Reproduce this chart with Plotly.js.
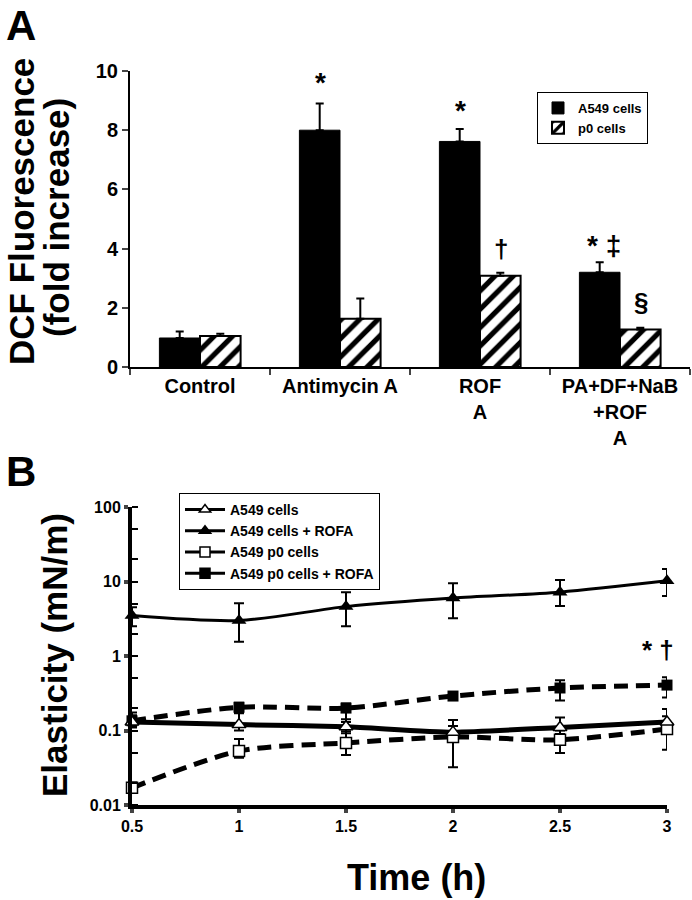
<!DOCTYPE html>
<html><head><meta charset="utf-8">
<script src="https://cdn.plot.ly/plotly-3.0.1.min.js"></script>
<style>html,body{margin:0;padding:0;background:#fff}#chart{width:692px;height:900px}</style>
</head><body><div id="chart"></div>
<script>
// ---------- Panel A data ----------
const categories = ['Control', 'Antimycin A', 'ROF<br>A', 'PA+DF+NaB<br>+ROF<br>A'];
const a549Fold = [0.98, 8.0, 7.62, 3.2];
const a549FoldErr = [0.22, 0.9, 0.42, 0.34];
const p0Fold = [1.05, 1.63, 3.08, 1.27];
const p0FoldErr = [0.07, 0.68, 0.1, 0.06];
const noErr = [0, 0, 0, 0];
const yTicksA = [0, 2, 4, 6, 8, 10];

// ---------- Panel B data ----------
const times = [0.5, 1, 1.5, 2, 2.5, 3];
const a549 = [0.13, 0.12, 0.112, 0.095, 0.11, 0.13];
const a549Plus = [0.03, 0.05, 0.03, 0.043, 0.04, 0.065];
const a549Minus = [0.02, 0.02, 0.02, 0.015, 0.02, 0.03];
const a549Rofa = [3.5, 3.0, 4.6, 6.0, 7.2, 10.2];
const a549RofaPlus = [1.0, 2.1, 2.6, 3.5, 3.3, 4.5];
const a549RofaMinus = [1.0, 1.45, 2.1, 2.8, 2.5, 3.8];
const p0 = [0.017, 0.053, 0.068, 0.082, 0.075, 0.105];
const p0Plus = [0.003, 0.024, 0.03, 0.033, 0.025, 0.05];
const p0Minus = [0.002, 0.01, 0.021, 0.05, 0.025, 0.05];
const p0Rofa = [0.135, 0.205, 0.2, 0.29, 0.372, 0.407];
const p0RofaPlus = [0.04, 0.03, 0.03, 0.02, 0.1, 0.11];
const p0RofaMinus = [0.02, 0.03, 0.07, 0.02, 0.12, 0.13];
const yTicksB = [0.01, 0.1, 1, 10, 100];
const yTickTextB = ['0.01', '0.1', '1', '10', '100'];
const xTicksB = [0.5, 1, 1.5, 2, 2.5, 3];
const legendB = ['A549 cells', 'A549 cells + ROFA', 'A549 p0 cells', 'A549 p0 cells + ROFA'];
const legendBSymbols = ['triangle-up', 'triangle-up', 'square', 'square'];
const legendBFill = ['white', 'black', 'white', 'black'];
const sigB = {x: 2.96, y: 1.2, text: '* †'};

const F = 'Liberation Sans, Arial, sans-serif';
const bold = (size) => ({family: F, size: size, color: 'black', weight: 700});

const traces = [
  {type: 'bar', name: 'A549 cells', x: categories, y: a549Fold, xaxis: 'x', yaxis: 'y', legend: 'legend',
   marker: {color: 'black', line: {color: 'black', width: 1}},
   error_y: {type: 'data', symmetric: false, array: a549FoldErr, arrayminus: noErr, color: 'black', thickness: 2, width: 4}},
  {type: 'bar', name: 'p0 cells', x: categories, y: p0Fold, xaxis: 'x', yaxis: 'y', legend: 'legend',
   marker: {color: 'white', line: {color: 'black', width: 2},
            pattern: {shape: '/', fgcolor: 'black', bgcolor: 'white', size: 13, solidity: 0.4}},
   error_y: {type: 'data', symmetric: false, array: p0FoldErr, arrayminus: noErr, color: 'black', thickness: 2, width: 4}},

  {type: 'scatter', mode: 'lines+markers', x: times, y: a549Rofa, xaxis: 'x2', yaxis: 'y2', showlegend: false,
   line: {color: 'black', width: 3, shape: 'spline', smoothing: 0.8},
   marker: {symbol: 'triangle-up', size: 13, color: 'black'},
   error_y: {type: 'data', symmetric: false, array: a549RofaPlus, arrayminus: a549RofaMinus, color: 'black', thickness: 2, width: 5}, cliponaxis: false},
  {type: 'scatter', mode: 'lines', x: times, y: p0Rofa, xaxis: 'x2', yaxis: 'y2', showlegend: false,
   line: {color: 'black', width: 5, dash: '14px,8px', shape: 'spline', smoothing: 0.8},
   error_y: {type: 'data', symmetric: false, array: p0RofaPlus, arrayminus: p0RofaMinus, color: 'black', thickness: 2, width: 5}, cliponaxis: false},
  {type: 'scatter', mode: 'lines', x: times, y: p0, xaxis: 'x2', yaxis: 'y2', showlegend: false,
   line: {color: 'black', width: 5, dash: '14px,8px', shape: 'spline', smoothing: 0.8},
   error_y: {type: 'data', symmetric: false, array: p0Plus, arrayminus: p0Minus, color: 'black', thickness: 2, width: 5}, cliponaxis: false},
  {type: 'scatter', mode: 'lines', x: times, y: a549, xaxis: 'x2', yaxis: 'y2', showlegend: false,
   line: {color: 'black', width: 5, shape: 'spline', smoothing: 0.6},
   error_y: {type: 'data', symmetric: false, array: a549Plus, arrayminus: a549Minus, color: 'black', thickness: 2, width: 5}, cliponaxis: false},
  {type: 'scatter', mode: 'markers', x: times, y: p0Rofa, xaxis: 'x2', yaxis: 'y2', showlegend: false,
   marker: {symbol: 'square', size: 11, color: 'black'}, cliponaxis: false},
  {type: 'scatter', mode: 'markers', x: times, y: p0, xaxis: 'x2', yaxis: 'y2', showlegend: false,
   marker: {symbol: 'square', size: 11, color: 'white', line: {color: 'black', width: 1.5}}, cliponaxis: false},
  {type: 'scatter', mode: 'markers', x: times, y: a549, xaxis: 'x2', yaxis: 'y2', showlegend: false,
   marker: {symbol: 'triangle-up', size: 12, color: 'white', line: {color: 'black', width: 1.5}}, cliponaxis: false}
];
legendB.forEach((nm, i) => traces.push({
  type: 'scatter', mode: 'lines+markers', name: nm, x: [null], y: [null], xaxis: 'x2', yaxis: 'y2', legend: 'legend2',
  line: {color: 'black', width: 3},
  marker: {symbol: legendBSymbols[i], size: 10, color: legendBFill[i], line: {color: 'black', width: 1.5}}
}));

const W = 692, H = 900;
const px = v => v / W, py = v => 1 - v / H;

const layout = {
  width: W, height: H, margin: {l: 0, r: 0, t: 0, b: 0},
  paper_bgcolor: 'white', plot_bgcolor: 'white',
  font: bold(16),
  barmode: 'group', bargap: 0.42, bargroupgap: 0,
  xaxis: {domain: [px(130), px(690)], type: 'category', tickson: 'boundaries', ticks: 'outside', ticklen: 6, tickwidth: 2,
          showline: true, linewidth: 2, linecolor: 'black', showgrid: false, zeroline: false,
          tickfont: bold(20), anchor: 'y', fixedrange: true},
  yaxis: {domain: [py(367), py(71)], range: [0, 10], tickvals: yTicksA, ticks: 'outside', ticklen: 6, tickwidth: 2,
          showline: true, linewidth: 2, linecolor: 'black', showgrid: false, zeroline: false,
          tickfont: bold(20), anchor: 'x', fixedrange: true},
  xaxis2: {domain: [px(132), px(667)], range: [0.5, 3], tickvals: xTicksB, ticks: 'outside', ticklen: 4, tickwidth: 4,
           showline: true, linewidth: 4, linecolor: 'black', showgrid: false, zeroline: false,
           tickfont: bold(16), anchor: 'y2', fixedrange: true},
  yaxis2: {domain: [py(805), py(507)], type: 'log', range: [-2, 2], tickvals: yTicksB, ticktext: yTickTextB,
           ticks: 'outside', ticklen: 4, tickwidth: 4,
           minor: {ticks: 'inside', ticklen: 6, tickwidth: 2, dtick: 'D2', tickcolor: 'black'},
           showline: true, linewidth: 4, linecolor: 'black', showgrid: false, zeroline: false,
           tickfont: bold(16), anchor: 'x2', fixedrange: true},
  legend: {x: px(537), y: py(92), xanchor: 'left', yanchor: 'top', bordercolor: 'black', borderwidth: 1,
           font: bold(13), tracegroupgap: 0, itemwidth: 30, bgcolor: 'white'},
  legend2: {x: px(179), y: py(493), xanchor: 'left', yanchor: 'top', bordercolor: 'black', borderwidth: 1,
            font: bold(14), tracegroupgap: 0, itemwidth: 40, bgcolor: 'white'},
  annotations: [
    {text: 'A', xref: 'paper', yref: 'paper', x: px(4), y: py(0), xanchor: 'left', yanchor: 'top', showarrow: false, font: bold(42)},
    {text: 'B', xref: 'paper', yref: 'paper', x: px(4), y: py(446), xanchor: 'left', yanchor: 'top', showarrow: false, font: bold(42)},
    {text: 'DCF Fluorescence', xref: 'paper', yref: 'paper', x: px(22), y: py(212), xanchor: 'center', yanchor: 'middle', textangle: -90, showarrow: false, font: bold(35)},
    {text: '(fold increase)', xref: 'paper', yref: 'paper', x: px(56), y: py(218), xanchor: 'center', yanchor: 'middle', textangle: -90, showarrow: false, font: bold(35)},
    {text: 'Elasticity (mN/m)', xref: 'paper', yref: 'paper', x: px(54), y: py(655), xanchor: 'center', yanchor: 'middle', textangle: -90, showarrow: false, font: bold(35)},
    {text: 'Time (h)', xref: 'paper', yref: 'paper', x: px(416), y: py(877), xanchor: 'center', yanchor: 'middle', showarrow: false, font: bold(36)},
    {text: '*', xref: 'x', yref: 'y', x: categories[1], y: 9.6, xshift: -20, showarrow: false, font: bold(28)},
    {text: '*', xref: 'x', yref: 'y', x: categories[2], y: 8.65, xshift: -20, showarrow: false, font: bold(28)},
    {text: '†', xref: 'x', yref: 'y', x: categories[2], y: 4.0, xshift: 21, showarrow: false, font: bold(26)},
    {text: '* ‡', xref: 'x', yref: 'y', x: categories[3], y: 4.1, xshift: -16, xanchor: 'center', showarrow: false, font: bold(28)},
    {text: '§', xref: 'x', yref: 'y', x: categories[3], y: 2.2, xshift: 21, showarrow: false, font: bold(26)},
    {text: sigB.text, xref: 'x2', yref: 'y2', x: sigB.x, y: Math.log10(sigB.y), showarrow: false, font: bold(26)}
  ]
};

Plotly.newPlot('chart', traces, layout, {displayModeBar: false, staticPlot: true});
</script></body></html>
